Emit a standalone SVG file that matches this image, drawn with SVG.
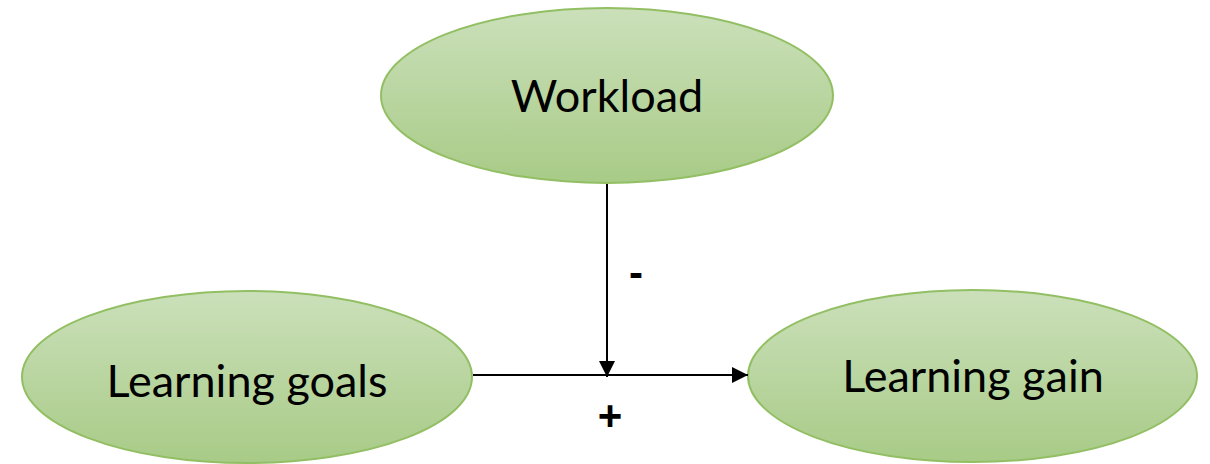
<svg xmlns="http://www.w3.org/2000/svg" width="1210" height="464" viewBox="0 0 1210 464">
  <defs>
    <linearGradient id="greenFill" x1="0" y1="0" x2="0" y2="1">
      <stop offset="0" stop-color="#cbe0ba"/>
      <stop offset="1" stop-color="#a8cb87"/>
    </linearGradient>
    <marker id="arrowHead" viewBox="0 0 16 16" refX="16" refY="8" markerWidth="16" markerHeight="16" markerUnits="userSpaceOnUse" orient="auto">
      <path d="M0,0 L16,8 L0,16 Z" fill="#000"/>
    </marker>
    <style>
      .node ellipse { fill: url(#greenFill); stroke: #92bf63; stroke-width: 2; }
      .node text { font-family: Lato, "Open Sans", sans-serif; font-size: 45px; fill: #000; text-anchor: middle; }
      .edge { stroke: #000; stroke-width: 2; fill: none; marker-end: url(#arrowHead); }
      .sign { font-family: "Liberation Sans", Arial, sans-serif; font-size: 42px; font-weight: bold; fill: #000; text-anchor: middle; }
    </style>
  </defs>

  <g id="workload" class="node">
    <ellipse cx="607" cy="95.5" rx="226" ry="87.5"/>
    <text x="607" y="112">Workload</text>
  </g>

  <g id="learning-goals" class="node">
    <ellipse cx="247" cy="377" rx="225" ry="86"/>
    <text x="247" y="397">Learning goals</text>
  </g>

  <g id="learning-gain" class="node">
    <ellipse cx="972.5" cy="376" rx="224.5" ry="86"/>
    <text x="973" y="392">Learning gain</text>
  </g>

  <g id="connectors">
    <line class="edge" x1="473" y1="375" x2="748" y2="375"/>
    <line class="edge" x1="607" y1="184" x2="607" y2="377"/>
    <text class="sign" x="636" y="287">-</text>
    <text class="sign" x="610" y="430">+</text>
  </g>
</svg>
